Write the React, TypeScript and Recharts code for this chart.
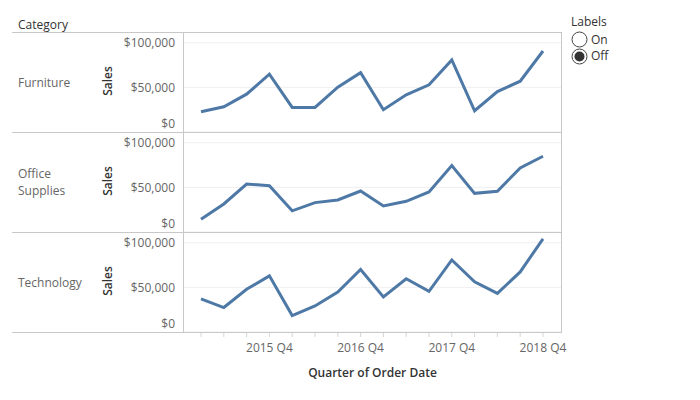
import React from "react";
import { LineChart, Line, XAxis, YAxis, CartesianGrid } from "recharts";

const QUARTERS = [
  "2015 Q1", "2015 Q2", "2015 Q3", "2015 Q4",
  "2016 Q1", "2016 Q2", "2016 Q3", "2016 Q4",
  "2017 Q1", "2017 Q2", "2017 Q3", "2017 Q4",
  "2018 Q1", "2018 Q2", "2018 Q3", "2018 Q4",
];
const X_TICK_LABELS = ["2015 Q4", "2016 Q4", "2017 Q4", "2018 Q4"];
const Y_TICKS = [0, 50000, 100000];

const FURNITURE = [22700, 28200, 42400, 64700, 27500, 27500, 50200, 66500, 24900, 41600, 52800, 80700, 23800, 45300, 56900, 90700];
const OFFICE_SUPPLIES = [14400, 31400, 53700, 51800, 23700, 32900, 35900, 45900, 29200, 34400, 44800, 74400, 43300, 45600, 71800, 84800];
const TECHNOLOGY = [37000, 27400, 47800, 62900, 18400, 29200, 44800, 70000, 39200, 59600, 45600, 80700, 56200, 43300, 67300, 104400];

const CATEGORIES = [
  { name: "Furniture", lines: ["Furniture"], values: FURNITURE },
  { name: "Office Supplies", lines: ["Office", "Supplies"], values: OFFICE_SUPPLIES },
  { name: "Technology", lines: ["Technology"], values: TECHNOLOGY },
];

const FONT = '"Open Sans", sans-serif';
const LINE_COLOR = "#4e79a7";
const BORDER = "#c8c8c8";
const TICK_COLOR = "#666666";
const PANEL_H = 100;
const PANEL_TOP = 32;
const RIGHT_PAD = 40;

const fmtMoney = (v: number) => "$" + v.toLocaleString("en-US");

const SalesTick = (props: any) => {
  const { y, payload } = props;
  const shift = payload.value === 0 ? -9 : 0;
  return (
    <text x={75} y={y + shift} textAnchor="end" dominantBaseline="central" fontSize={12} fontFamily={FONT} fill={TICK_COLOR}>
      {fmtMoney(payload.value)}
    </text>
  );
};

const QuarterTick = (props: any) => {
  const { x, payload } = props;
  const showLabel = X_TICK_LABELS.includes(payload.value);
  return (
    <g>
      <line x1={x} x2={x} y1={PANEL_H} y2={PANEL_H + 5} stroke="#d6d6d6" />
      {showLabel && (
        <text x={x} y={PANEL_H + 15.5} textAnchor="middle" dominantBaseline="central" fontSize={12} fontFamily={FONT} fill={TICK_COLOR}>
          {payload.value}
        </text>
      )}
    </g>
  );
};

const Panel = ({ values, top, showX }: { values: number[]; top: number; showX: boolean }) => {
  const data = QUARTERS.map((q, i) => ({ quarter: q, sales: values[i] }));
  return (
    <div style={{ position: "absolute", left: 100, top }}>
      <LineChart
        width={462 + RIGHT_PAD}
        height={showX ? PANEL_H + 35 : PANEL_H}
        data={data}
        margin={{ top: 0, right: RIGHT_PAD, bottom: 0, left: 0 }}
      >
        <CartesianGrid vertical={false} stroke="#efefef" />
        <XAxis
          dataKey="quarter"
          hide={!showX}
          height={35}
          padding={{ left: 18, right: 19 }}
          axisLine={false}
          tickLine={false}
          interval={0}
          tick={<QuarterTick />}
        />
        <YAxis
          width={83}
          domain={[0, 112000]}
          ticks={Y_TICKS}
          interval={0}
          axisLine={false}
          tickLine={false}
          tick={<SalesTick />}
        />
        <Line type="linear" dataKey="sales" stroke={LINE_COLOR} strokeWidth={3} dot={false} activeDot={false} isAnimationActive={false} />
      </LineChart>
    </div>
  );
};

export default function App() {
  return (
    <div style={{ position: "absolute", left: 0, top: 0, width: 700, height: 400, background: "#fff", fontFamily: FONT }}>
      {CATEGORIES.map((c, i) => (
        <Panel key={c.name} values={c.values} top={PANEL_TOP + i * PANEL_H} showX={i === CATEGORIES.length - 1} />
      ))}
      <svg width={700} height={400} style={{ position: "absolute", left: 0, top: 0, pointerEvents: "none" }}>
        <text x={18} y={24} dominantBaseline="central" fontSize={12} fontFamily={FONT} fill="#333">
          Category
        </text>
        {[0, 1, 2, 3].map((i) => (
          <line key={i} x1={12} x2={562} y1={PANEL_TOP + i * PANEL_H + 0.5} y2={PANEL_TOP + i * PANEL_H + 0.5} stroke={BORDER} />
        ))}
        <line x1={183.5} x2={183.5} y1={PANEL_TOP} y2={PANEL_TOP + 3 * PANEL_H} stroke={BORDER} />
        <line x1={561.5} x2={561.5} y1={PANEL_TOP} y2={PANEL_TOP + 3 * PANEL_H} stroke={BORDER} />
        {CATEGORIES.map((c, i) => {
          const cy = PANEL_TOP + i * PANEL_H + 50;
          const start = cy - ((c.lines.length - 1) * 17) / 2;
          return (
            <g key={c.name}>
              {c.lines.map((l, j) => (
                <text key={l} x={18} y={start + j * 17} dominantBaseline="central" fontSize={12} fontFamily={FONT} fill="#666">
                  {l}
                </text>
              ))}
              <text
                x={107.5}
                y={cy - 1}
                textAnchor="middle"
                dominantBaseline="central"
                fontSize={12}
                fontWeight={600}
                fontFamily={FONT}
                fill="#333"
                transform={`rotate(-90 107.5 ${cy - 1})`}
              >
                Sales
              </text>
            </g>
          );
        })}
        <text x={372.5} y={372} textAnchor="middle" dominantBaseline="central" fontSize={12} fontWeight={600} fontFamily={FONT} fill="#333">
          Quarter of Order Date
        </text>
        <text x={571} y={21.5} dominantBaseline="central" fontSize={12} fontFamily={FONT} fill="#333">
          Labels
        </text>
        <circle cx={579.5} cy={39.5} r={7.5} fill="#fff" stroke="#444" />
        <text x={591} y={39} dominantBaseline="central" fontSize={12} fontFamily={FONT} fill="#333">
          On
        </text>
        <circle cx={579.5} cy={56.5} r={7.5} fill="#fff" stroke="#444" />
        <circle cx={579.5} cy={56.5} r={5} fill="#333" />
        <text x={591} y={55} dominantBaseline="central" fontSize={12} fontFamily={FONT} fill="#333">
          Off
        </text>
      </svg>
    </div>
  );
}
